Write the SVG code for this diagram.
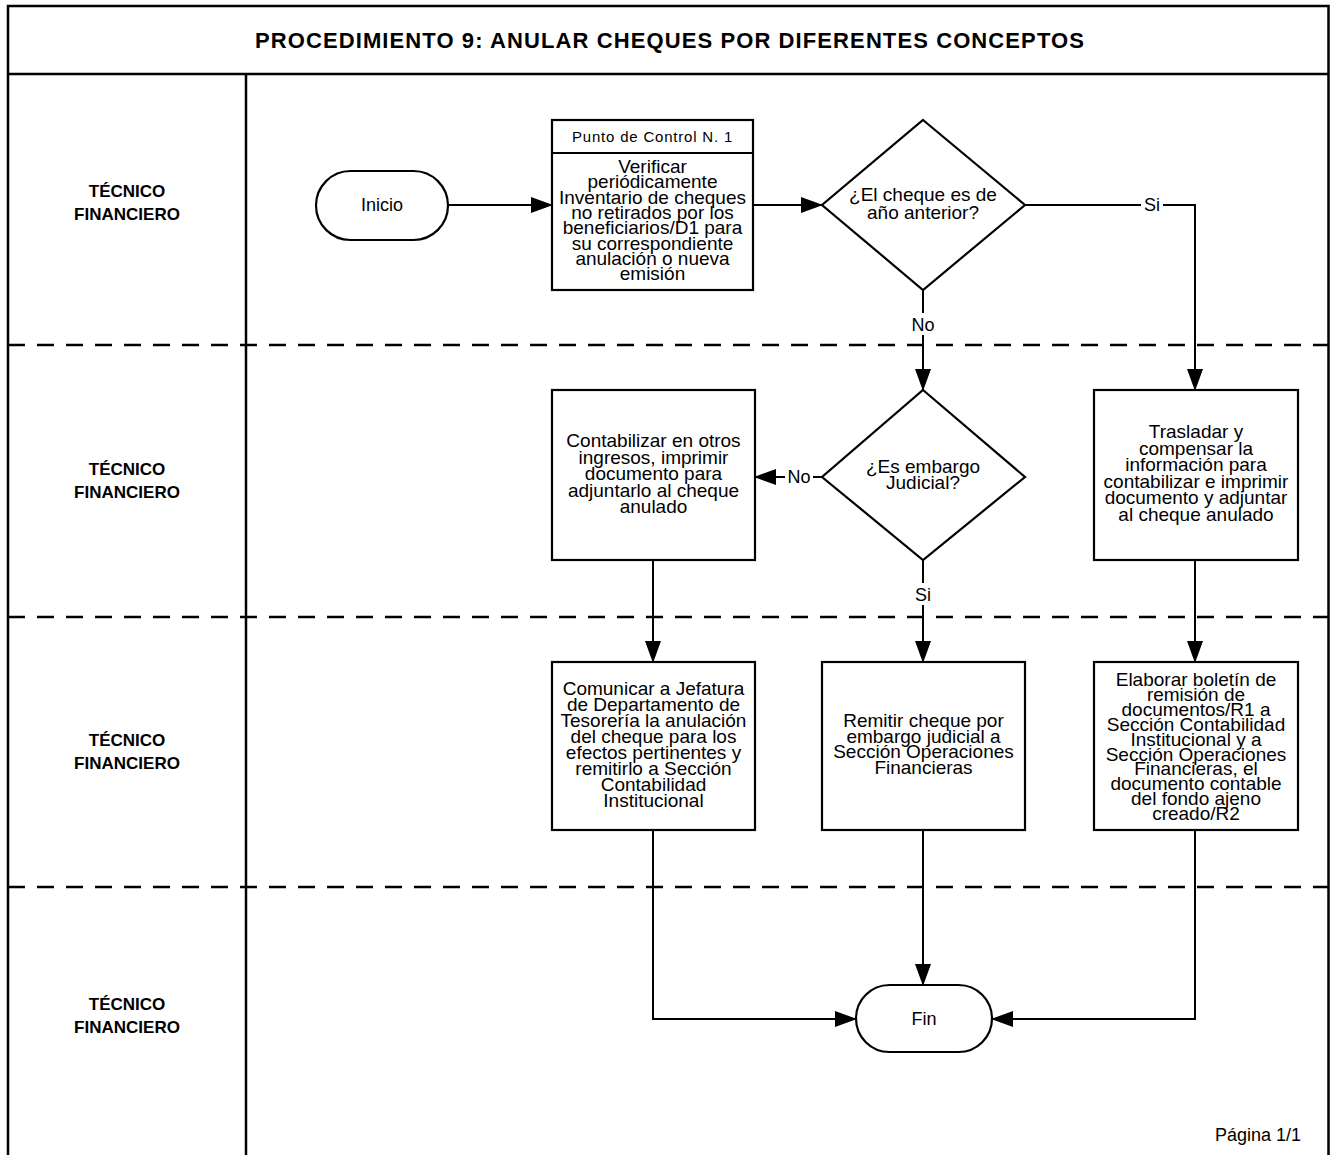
<svg xmlns="http://www.w3.org/2000/svg" width="1330" height="1155" viewBox="0 0 1330 1155">
<style>
.frame{fill:none;stroke:#000;stroke-width:2.5}
.lane{fill:none;stroke:#000;stroke-width:2.5;stroke-dasharray:17 12}
.shape{fill:#fff;stroke:#000;stroke-width:2.2}
.conn{fill:none;stroke:#000;stroke-width:2}
.t{font-family:"Liberation Sans",Arial,sans-serif;font-size:19px;fill:#000;text-anchor:middle}
.small{font-size:15px;letter-spacing:0.8px}
.mid{font-size:18px}
.lbl{font-family:"Liberation Sans",Arial,sans-serif;font-size:17px;font-weight:bold;fill:#000;text-anchor:middle}
.title{font-family:"Liberation Sans",Arial,sans-serif;font-size:22px;font-weight:bold;letter-spacing:1.1px;fill:#000;text-anchor:middle}
.bg{fill:#fff}
</style>
<defs>
<marker id="arr" markerUnits="userSpaceOnUse" markerWidth="22" markerHeight="16" refX="21" refY="8" orient="auto">
<path d="M0,0 L22,8 L0,16 Z" fill="#000"/>
</marker>
</defs>
<rect x="0" y="0" width="1330" height="1155" fill="#fff"/>
<g id="frame">
<path class="frame" d="M8,1155 V6 H1328.5 V1155"/>
<line class="frame" x1="8" y1="74" x2="1329" y2="74" stroke-width="3.5"/>
<line class="frame" x1="246" y1="74" x2="246" y2="1155"/>
<line class="lane" x1="8" y1="345" x2="1329" y2="345"/>
<line class="lane" x1="8" y1="617" x2="1329" y2="617"/>
<line class="lane" x1="8" y1="887" x2="1329" y2="887"/>
<text class="title" x="670" y="48">PROCEDIMIENTO 9: ANULAR CHEQUES POR DIFERENTES CONCEPTOS</text>
<text class="lbl" x="127" y="197">TÉCNICO<tspan x="127" dy="23">FINANCIERO</tspan></text>
<text class="lbl" x="127" y="475">TÉCNICO<tspan x="127" dy="23">FINANCIERO</tspan></text>
<text class="lbl" x="127" y="746">TÉCNICO<tspan x="127" dy="23">FINANCIERO</tspan></text>
<text class="lbl" x="127" y="1010">TÉCNICO<tspan x="127" dy="23">FINANCIERO</tspan></text>
<text class="t mid" x="1258" y="1141">Página 1/1</text>
</g>
<g id="connectors">
<line class="conn" x1="448" y1="205" x2="552" y2="205" marker-end="url(#arr)"/>
<line class="conn" x1="753" y1="205" x2="822" y2="205" marker-end="url(#arr)"/>
<path class="conn" d="M1025,205 H1195 V390" marker-end="url(#arr)"/>
<line class="conn" x1="923" y1="290" x2="923" y2="390" marker-end="url(#arr)"/>
<line class="conn" x1="822" y1="477" x2="755" y2="477" marker-end="url(#arr)"/>
<line class="conn" x1="923" y1="560" x2="923" y2="662" marker-end="url(#arr)"/>
<line class="conn" x1="1195" y1="560" x2="1195" y2="662" marker-end="url(#arr)"/>
<line class="conn" x1="653" y1="560" x2="653" y2="662" marker-end="url(#arr)"/>
<path class="conn" d="M653,830 V1019 H856" marker-end="url(#arr)"/>
<line class="conn" x1="923" y1="830" x2="923" y2="985" marker-end="url(#arr)"/>
<path class="conn" d="M1195,830 V1019 H992" marker-end="url(#arr)"/>
<rect class="bg" x="1141" y="195" width="22" height="20"/>
<text class="t mid" x="1152" y="211">Si</text>
<rect class="bg" x="910" y="313" width="26" height="22"/>
<text class="t mid" x="923" y="331">No</text>
<rect class="bg" x="785" y="467" width="28" height="20"/>
<text class="t mid" x="799" y="483">No</text>
<rect class="bg" x="912" y="583" width="22" height="22"/>
<text class="t mid" x="923" y="601">Si</text>
</g>
<g id="inicio">
<rect class="shape" x="316" y="171" width="132" height="69" rx="34.5"/>
<text class="t mid" x="382" y="211">Inicio</text>
</g>
<g id="verificar">
<rect class="shape" x="552" y="120" width="201" height="170"/>
<line class="conn" x1="552" y1="153" x2="753" y2="153"/>
<text class="t small" x="652.5" y="142">Punto de Control  N. 1</text>
<text class="t" x="652.5" y="173">Verificar<tspan x="652.5" dy="15.3">periódicamente</tspan><tspan x="652.5" dy="15.3">Inventario de cheques</tspan><tspan x="652.5" dy="15.3">no retirados por los</tspan><tspan x="652.5" dy="15.3">beneficiarios/D1 para</tspan><tspan x="652.5" dy="15.3">su correspondiente</tspan><tspan x="652.5" dy="15.3">anulación o nueva</tspan><tspan x="652.5" dy="15.3">emisión</tspan></text>
</g>
<g id="decision1">
<polygon class="shape" points="923,120 1025,205 923,290 822,205"/>
<text class="t" x="923" y="201">¿El cheque es de<tspan x="923" dy="18">año anterior?</tspan></text>
</g>
<g id="decision2">
<polygon class="shape" points="923,390 1025,477 923,560 822,477"/>
<text class="t" x="923" y="473">¿Es embargo<tspan x="923" dy="16">Judicial?</tspan></text>
</g>
<g id="contabilizar">
<rect class="shape" x="552" y="390" width="203" height="170"/>
<text class="t" x="653.5" y="447">Contabilizar en otros<tspan x="653.5" dy="16.5">ingresos, imprimir</tspan><tspan x="653.5" dy="16.5">documento para</tspan><tspan x="653.5" dy="16.5">adjuntarlo al cheque</tspan><tspan x="653.5" dy="16.5">anulado</tspan></text>
</g>
<g id="trasladar">
<rect class="shape" x="1094" y="390" width="204" height="170"/>
<text class="t" x="1196" y="438">Trasladar y<tspan x="1196" dy="16.5">compensar la</tspan><tspan x="1196" dy="16.5">información para</tspan><tspan x="1196" dy="16.5">contabilizar e imprimir</tspan><tspan x="1196" dy="16.5">documento y adjuntar</tspan><tspan x="1196" dy="16.5">al cheque anulado</tspan></text>
</g>
<g id="comunicar">
<rect class="shape" x="552" y="662" width="203" height="168"/>
<text class="t" x="653.5" y="695">Comunicar a Jefatura<tspan x="653.5" dy="16">de Departamento de</tspan><tspan x="653.5" dy="16">Tesorería la anulación</tspan><tspan x="653.5" dy="16">del cheque para los</tspan><tspan x="653.5" dy="16">efectos pertinentes y</tspan><tspan x="653.5" dy="16">remitirlo a Sección</tspan><tspan x="653.5" dy="16">Contabilidad</tspan><tspan x="653.5" dy="16">Institucional</tspan></text>
</g>
<g id="remitir">
<rect class="shape" x="822" y="662" width="203" height="168"/>
<text class="t" x="923.5" y="727">Remitir cheque por<tspan x="923.5" dy="15.5">embargo judicial a</tspan><tspan x="923.5" dy="15.5">Sección Operaciones</tspan><tspan x="923.5" dy="15.5">Financieras</tspan></text>
</g>
<g id="elaborar">
<rect class="shape" x="1094" y="662" width="204" height="168"/>
<text class="t" x="1196" y="686">Elaborar boletín de<tspan x="1196" dy="14.9">remisión de</tspan><tspan x="1196" dy="14.9">documentos/R1 a</tspan><tspan x="1196" dy="14.9">Sección Contabilidad</tspan><tspan x="1196" dy="14.9">Institucional y a</tspan><tspan x="1196" dy="14.9">Sección Operaciones</tspan><tspan x="1196" dy="14.9">Financieras, el</tspan><tspan x="1196" dy="14.9">documento contable</tspan><tspan x="1196" dy="14.9">del fondo ajeno</tspan><tspan x="1196" dy="14.9">creado/R2</tspan></text>
</g>
<g id="fin">
<rect class="shape" x="856" y="985" width="136" height="67" rx="33.5"/>
<text class="t mid" x="924" y="1025">Fin</text>
</g>
</svg>
